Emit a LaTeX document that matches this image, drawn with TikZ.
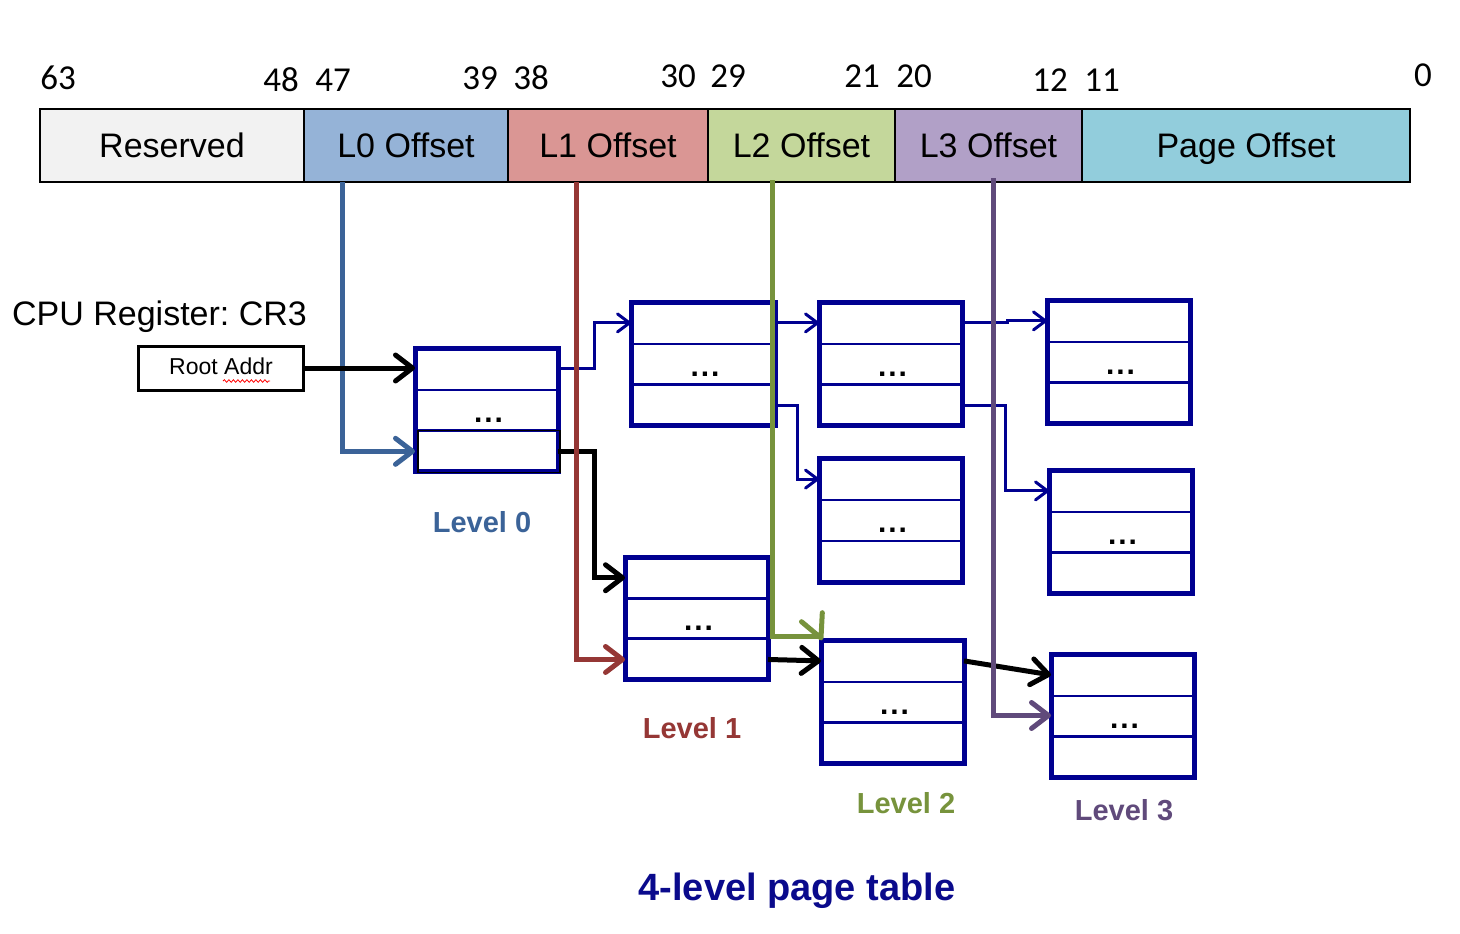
\documentclass[tikz,border=0pt]{standalone}
\usepackage{fontspec}
\setmainfont{Liberation Sans}
\newfontfamily\numfont{Carlito}
\usetikzlibrary{arrows.meta,calc,fit,decorations.pathmorphing}
\frenchspacing
\definecolor{navy}{HTML}{000090}
\definecolor{resfill}{HTML}{F2F2F2}
\definecolor{lzfill}{HTML}{95B3D7}
\definecolor{lofill}{HTML}{DA9694}
\definecolor{ltfill}{HTML}{C4D79B}
\definecolor{lhfill}{HTML}{B1A0C7}
\definecolor{pgfill}{HTML}{92CDDC}
\definecolor{lzcol}{HTML}{3B6398}
\definecolor{locol}{HTML}{953735}
\definecolor{ltcol}{HTML}{77933C}
\definecolor{lhcol}{HTML}{604A7B}
\definecolor{titlecol}{HTML}{0A0A8C}
\newcommand\pgtab[5]{%
  \node[tbl, fit={(#2,#3) (#4,#5)}] (#1) {};
  \coordinate (#1-w1) at ($(#1.north west)!0.17!(#1.south west)$);
  \coordinate (#1-w2) at ($(#1.north west)!0.5!(#1.south west)$);
  \coordinate (#1-w3) at ($(#1.north west)!0.84!(#1.south west)$);
  \coordinate (#1-e1) at ($(#1.north east)!0.17!(#1.south east)$);
  \coordinate (#1-e3) at ($(#1.north east)!0.84!(#1.south east)$);
  \coordinate (#1-l2w) at ($(#1.north west)!0.67!(#1.south west)$);
  \draw[rowline] ($(#1.north west)!0.34!(#1.south west)$) -- ($(#1.north east)!0.34!(#1.south east)$);
  \draw[rowline] (#1-l2w) -- ($(#1.north east)!0.67!(#1.south east)$);
  \node[dots] (#1-d) at ($(#1.center)+(2,10.5)$) {.\kern2pt.\kern2pt.};
}
\begin{document}
\begin{tikzpicture}[x=1pt,y=-1pt,
  field/.style={draw=black, line width=2pt, minimum height=73pt, text height=24pt, text depth=0pt, inner sep=0pt, outer sep=0pt, font=\fontsize{34}{40}\selectfont},
  bitnum/.style={font=\numfont\fontsize{35}{40}\selectfont, inner sep=0pt},
  tbl/.style={draw=navy, line width=5pt, inner sep=0pt, outer sep=0pt},
  rowline/.style={draw=navy, line width=2.5pt},
  dots/.style={font=\bfseries\fontsize{30}{32}\selectfont, inner sep=0pt},
  lvl/.style={font=\bfseries\fontsize{29}{32}\selectfont, inner sep=0pt, text depth=0pt},
  bigarr/.style={line width=5pt, -{Straight Barb[length=17pt,width=26pt,round]}},
  navyarr/.style={draw=navy, line width=3pt, -{Straight Barb[length=12pt,width=18pt,round]}}
]
\useasboundingbox (0,0) rectangle (1460,934);

% address bar
\node[field, fill=resfill, minimum width=264pt] (fR) at (172,145.5) {Reserved};
\node[field, fill=lzfill, minimum width=204pt] (f0) at (406,145.5) {L0 Offset};
\node[field, fill=lofill, minimum width=200pt] (f1) at (608,145.5) {L1 Offset};
\node[field, fill=ltfill, minimum width=187pt] (f2) at (801.5,145.5) {L2 Offset};
\node[field, fill=lhfill, minimum width=187pt] (f3) at (988.5,145.5) {L3 Offset};
\node[field, fill=pgfill, minimum width=328pt] (fP) at (1246,145.5) {Page Offset};

% bit numbers
\node[bitnum] (b63) at (58,78) {63};
\node[bitnum] (b48) at (281,80) {48};
\node[bitnum] (b47) at (333,80) {47};
\node[bitnum] (b39) at (480,78) {39};
\node[bitnum] (b38) at (531,78) {38};
\node[bitnum] (b30) at (678,76) {30};
\node[bitnum] (b29) at (728,76) {29};
\node[bitnum] (b21) at (862,76) {21};
\node[bitnum] (b20) at (914,76) {20};
\node[bitnum] (b12) at (1050,80) {12};
\node[bitnum] (b11) at (1102,80) {11};
\node[bitnum] (b0) at (1423,75) {0};

% CPU register
\node[anchor=base west, inner sep=0pt, font=\fontsize{34}{40}\selectfont] (cpu) at (12,325) {CPU Register: CR3};
\node[draw=black, line width=3pt, minimum width=165pt, minimum height=44pt, inner sep=0pt, outer sep=0pt] (root) at (220.5,368) {};
\node[inner sep=0pt, font=\fontsize{23}{24}\selectfont, text depth=0pt] (rootlbl) at (221,366) {Root Addr};
\draw[red, line width=0.8pt, decorate, decoration={snake, amplitude=1.3pt, segment length=4.5pt}] (223,381) -- (270,381);

% tables
\pgtab{t0}{415}{348}{558}{471}
\pgtab{t1a}{631}{302}{775}{425}
\pgtab{t1b}{625}{557}{768}{679}
\pgtab{t2a}{819}{302}{962}{425}
\pgtab{t2b}{819}{458}{962}{582}
\pgtab{t2c}{821}{640}{964}{763}
\pgtab{t3a}{1047}{300}{1190}{423}
\pgtab{t3b}{1049}{470}{1192}{593}
\pgtab{t3c}{1051}{654}{1194}{777}
\draw[black, line width=1.8pt] ($(t0-l2w)+(3,0)$) rectangle ($(t0.south east)+(2,1.5)$);

% labels
\node[lvl, text=lzcol] (lv0) at (482,522) {Level 0};
\node[lvl, text=locol] (lv1) at (692,728) {Level 1};
\node[lvl, text=ltcol] (lv2) at (906,803) {Level 2};
\node[lvl, text=lhcol] (lv3) at (1124,810) {Level 3};
\node[inner sep=0pt, text depth=0pt, text=titlecol, font=\bfseries\fontsize{38}{40}\selectfont] (title) at (797,887) {4-level page table};

% navy connectors
\draw[navyarr] (t0-e1) -- ++(36,0) |- (t1a-w1);
\draw[navyarr] (t1a-e1) -- (t2a-w1);
\draw[navyarr] (t1a-e3) -- ++(22,0) |- (t2b-w1);
\draw[navyarr] (t2a-e1) -- ++(45,0) |- (t3a-w1);
\draw[navyarr] (t2a-e3) -- ++(43,0) |- (t3b-w1);

% L0 offset
\draw[bigarr, draw=lzcol] ($(f0.south)+(-64,0)$) |- (t0-w3);

% black connectors
\draw[bigarr, draw=black] (root.east) -- (root.east -| t0.west);
\draw[bigarr, draw=black] (t0-e3) -- ++(36,0) |- (t1b-w1);
\draw[bigarr, draw=black] (t1b-e3) -- (t2c-w1);
\draw[bigarr, draw=black] (t2c-e1) -- (t3c-w1);

% L1, L2, L3 offsets
\draw[bigarr, draw=locol] ($(f1.south)+(-32,0)$) |- (t1b-w3);
\draw[draw=ltcol, line width=5pt] ($(f2.south)+(-29.5,-2)$) |- ($(t2c.north west)+(-2,-4)$);
\draw[draw=ltcol, line width=5pt, line cap=round, line join=round] ($(t2c.north west)+(-19.5,-18.3)$) -- ($(t2c.north west)+(0,-2)$) -- ($(t2c.north west)+(1.3,-27.3)$);
\draw[bigarr, draw=lhcol] ($(f3.south)+(4.5,-4)$) |- (t3c-w2);
\end{tikzpicture}
\end{document}
